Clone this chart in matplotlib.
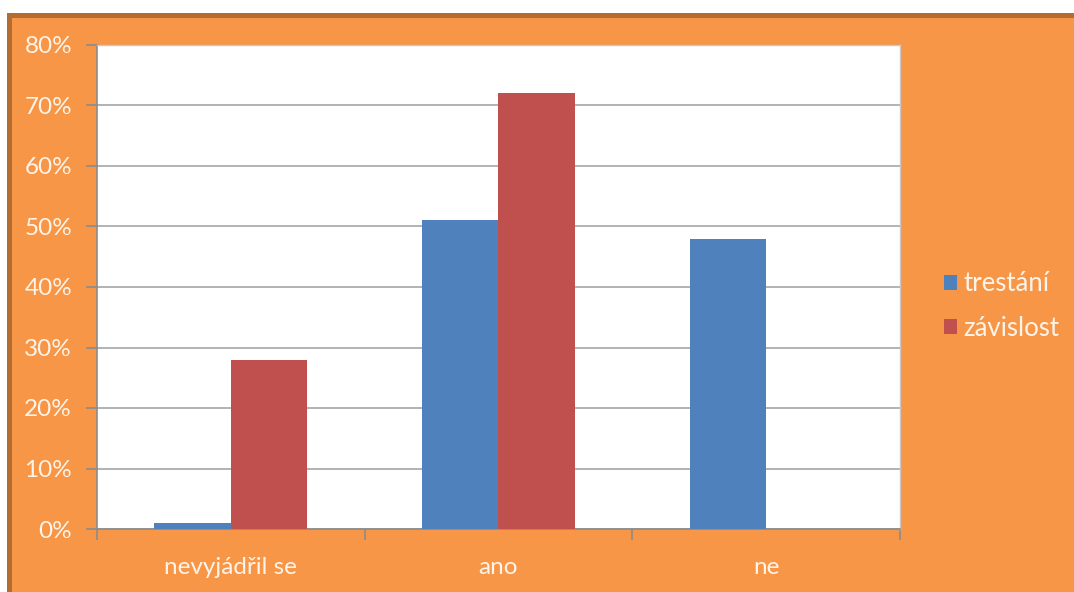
import matplotlib
matplotlib.use("Agg")
import matplotlib.pyplot as plt
from matplotlib.patches import Rectangle
import numpy as np

categories = ["nevyjádřil se", "ano", "ne"]
series_names = ["trestání", "závislost"]
trestani = [1, 51, 48]
zavislost = [28, 72, 0]
yticks = [0, 10, 20, 30, 40, 50, 60, 70, 80]

W, H = 1074, 592
fig = plt.figure(figsize=(W / 100, H / 100), dpi=100)
fig.patch.set_facecolor("white")

orange = "#F79646"
brown = "#B56C30"
txt = "#FFF4EA"
plt.rcParams['font.family'] = ['Lato', 'DejaVu Sans']
FS = 17.5
LFS = 18.5

# background panel with brown top/left border
fig.patches.append(Rectangle((7 / W, 0), 1, 1 - 13 / H, transform=fig.transFigure,
                             facecolor=brown, edgecolor="none", zorder=-10))
fig.patches.append(Rectangle((12 / W, 0), 1, 1 - 18 / H, transform=fig.transFigure,
                             facecolor=orange, edgecolor="none", zorder=-9))

ax = fig.add_axes([97 / W, 1 - 529 / H, (900 - 97) / W, (529 - 45) / H])
ax.set_zorder(5)
ax.set_facecolor("white")
x = np.arange(len(categories))
bw = 1 / 3.5
ax.bar(x - bw / 2, trestani, bw, color="#4F81BD", label=series_names[0], zorder=3)
ax.bar(x + bw / 2, zavislost, bw, color="#C0504D", label=series_names[1], zorder=3)

ax.set_xlim(-0.5, 2.5)
ax.set_ylim(0, 80)
ax.set_yticks(yticks)
ax.set_yticklabels([f"{v}%" for v in yticks])
ax.yaxis.grid(True, color="#A6A6A6", linewidth=1.2, zorder=1)
ax.set_axisbelow(True)
ax.set_xticks(x)
ax.set_xticklabels(categories)
ax.set_xticks([-0.5, 0.5, 1.5, 2.5], minor=True)
ax.tick_params(axis="x", which="major", length=0, pad=20, labelsize=FS, labelcolor=txt)
ax.tick_params(axis="x", which="minor", length=8, color="#8C8C8C", width=1.2)
ax.tick_params(axis="y", length=8, color="#8C8C8C", width=1.2, labelsize=FS,
               labelcolor=txt, pad=10)
for s in ["left", "bottom"]:
    ax.spines[s].set_color("#8C8C8C")
    ax.spines[s].set_linewidth(1.2)
for s in ["top", "right"]:
    ax.spines[s].set_color("#C8C8C8")
    ax.spines[s].set_linewidth(1.0)

leg = fig.legend(loc="center left", bbox_to_anchor=(944 / W, 1 - 306 / H),
                 frameon=False, fontsize=LFS, labelcolor=txt, handlelength=0.5,
                 handleheight=0.5, handletextpad=0.25, labelspacing=0.75,
                 borderpad=0, borderaxespad=0)
leg.set_zorder(6)

fig.savefig("out.png", dpi=100)
